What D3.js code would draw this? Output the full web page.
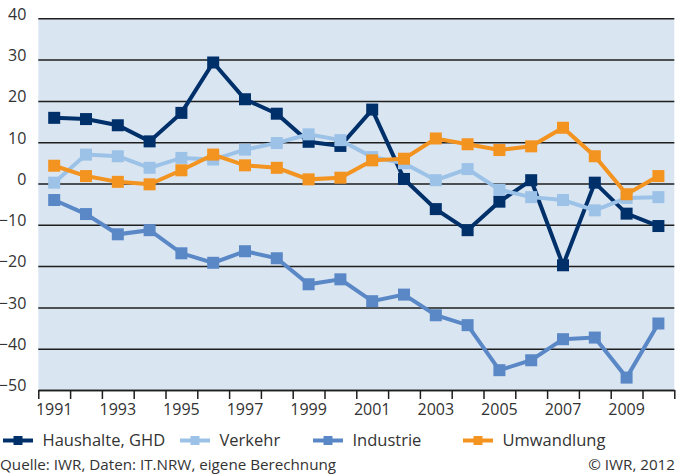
<!DOCTYPE html>
<html>
<head>
<meta charset="utf-8">
<script src="https://cdn.jsdelivr.net/npm/d3@7"></script>
<style>
  body { margin: 0; background: #fff; }
  svg { display: block; font-family: "Open Sans", sans-serif; }
</style>
</head>
<body>
<div id="chart"></div>
<script>
const years = d3.range(1991, 2011);
const yearLabels = [1991, 1993, 1995, 1997, 1999, 2001, 2003, 2005, 2007, 2009];
const yTicks = [40, 30, 20, 10, 0, -10, -20, -30, -40, -50];

const haushalte = [15.9, 15.6, 14.1, 10.2, 17.1, 29.3, 20.4, 16.9, 10.1, 9.1,
                   17.9, 1.1, -6.2, -11.3, -4.4, 0.8, -19.8, 0.2, -7.3, -10.3];
const verkehr = [0.2, 7.0, 6.6, 3.8, 6.2, 5.8, 8.2, 9.8, 11.9, 10.5,
                 6.4, 4.9, 0.8, 3.5, -1.5, -3.3, -4.0, -6.5, -3.5, -3.3];
const industrie = [-4.0, -7.4, -12.3, -11.3, -16.9, -19.2, -16.4, -18.1, -24.4, -23.2,
                   -28.5, -26.9, -31.9, -34.3, -45.2, -42.8, -37.7, -37.3, -47.0, -33.9];
const umwandlung = [4.3, 1.8, 0.4, -0.2, 3.2, 7.0, 4.4, 3.8, 1.0, 1.4,
                    5.6, 6.0, 10.9, 9.5, 8.1, 9.0, 13.5, 6.6, -2.6, 1.8];

const seriesNames = ["Haushalte, GHD", "Verkehr", "Industrie", "Umwandlung"];
const seriesValues = [haushalte, verkehr, industrie, umwandlung];
const colors = ["#00306a", "#9cc3e7", "#5a88c6", "#f39320"];
// drawing order, bottom to top
const drawOrder = [2, 0, 1, 3];
const legendX = [3, 180, 313, 463];

const width = 680, height = 474;
const plot = {left: 38.3, right: 674.3, top: 18.3, bottom: 390};

const svg = d3.select("#chart").append("svg")
  .attr("width", width).attr("height", height);

let x = d3.scaleBand().domain(years).range([plot.left, plot.right]);
let xEdge = d3.scaleLinear().domain([1991, 2011]).range([plot.left, plot.right]);
let y = d3.scaleLinear().domain([-50, 40]).range([plot.bottom, plot.top]);

svg.append("rect")
  .attr("x", plot.left).attr("y", plot.top)
  .attr("width", plot.right - plot.left).attr("height", plot.bottom - plot.top)
  .attr("fill", "#dae5f2");

// gridlines + y labels
let yAxis = svg.append("g")
  .attr("transform", `translate(${plot.left},0)`)
  .call(d3.axisLeft(y).tickValues(yTicks).tickSizeInner(-(plot.right - plot.left)).tickSizeOuter(0).tickPadding(12));
yAxis.select(".domain").remove();
yAxis.selectAll("line").attr("stroke", "#1e1e1e").attr("stroke-width", 1.5);
yAxis.selectAll("text")
  .attr("fill", "#333").attr("font-size", 16)
  .attr("dy", "0.05em")
  .attr("font-family", "Open Sans, sans-serif");

// x tick marks at year boundaries
let xTickAxis = svg.append("g")
  .attr("transform", `translate(0,${plot.bottom})`)
  .call(d3.axisBottom(xEdge).tickValues(d3.range(1991, 2012)).tickFormat("").tickSize(9).tickSizeOuter(0));
xTickAxis.select(".domain").attr("stroke", "#1e1e1e").attr("stroke-width", 1.5);
xTickAxis.selectAll("line").attr("stroke", "#1e1e1e").attr("stroke-width", 1.5);

// x labels
let xAxis = svg.append("g")
  .attr("transform", `translate(0,${plot.bottom})`)
  .call(d3.axisBottom(x).tickValues(yearLabels).tickSize(0).tickPadding(14));
xAxis.select(".domain").remove();
xAxis.selectAll("text")
  .attr("fill", "#333").attr("font-size", 16)
  .attr("font-family", "Open Sans, sans-serif");

const line = d3.line()
  .x((d, i) => x(years[i]) + x.bandwidth() / 2)
  .y(d => y(d));

drawOrder.forEach(k => {
  const g = svg.append("g");
  g.append("path")
    .datum(seriesValues[k])
    .attr("d", line)
    .attr("fill", "none")
    .attr("stroke", colors[k])
    .attr("stroke-width", 4)
    .attr("stroke-linejoin", "miter");
  g.selectAll("rect")
    .data(seriesValues[k])
    .join("rect")
      .attr("x", (d, i) => x(years[i]) + x.bandwidth() / 2 - 6)
      .attr("y", d => y(d) - 6)
      .attr("width", 12)
      .attr("height", 12)
      .attr("fill", colors[k]);
});

// legend
const legend = svg.append("g").attr("transform", "translate(0,440.5)");
seriesNames.forEach((name, k) => {
  const item = legend.append("g").attr("transform", `translate(${legendX[k]},0)`);
  item.append("line")
    .attr("x1", 0).attr("x2", 30)
    .attr("stroke", colors[k]).attr("stroke-width", 4);
  item.append("rect")
    .attr("x", 10.5).attr("y", -4.5)
    .attr("width", 9).attr("height", 9)
    .attr("fill", colors[k]);
  item.append("text")
    .attr("x", 39.5)
    .attr("dy", "0.35em")
    .attr("fill", "#333")
    .attr("font-size", 16.5)
    .text(name);
});

svg.append("text")
  .attr("x", 0).attr("y", 465)
  .attr("dy", "0.35em")
  .attr("fill", "#333")
  .attr("font-size", 15.2)
  .text("Quelle: IWR, Daten: IT.NRW, eigene Berechnung");

svg.append("text")
  .attr("x", 675).attr("y", 465)
  .attr("dy", "0.35em")
  .attr("text-anchor", "end")
  .attr("fill", "#333")
  .attr("font-size", 15.2)
  .text("© IWR, 2012");
</script>
</body>
</html>
